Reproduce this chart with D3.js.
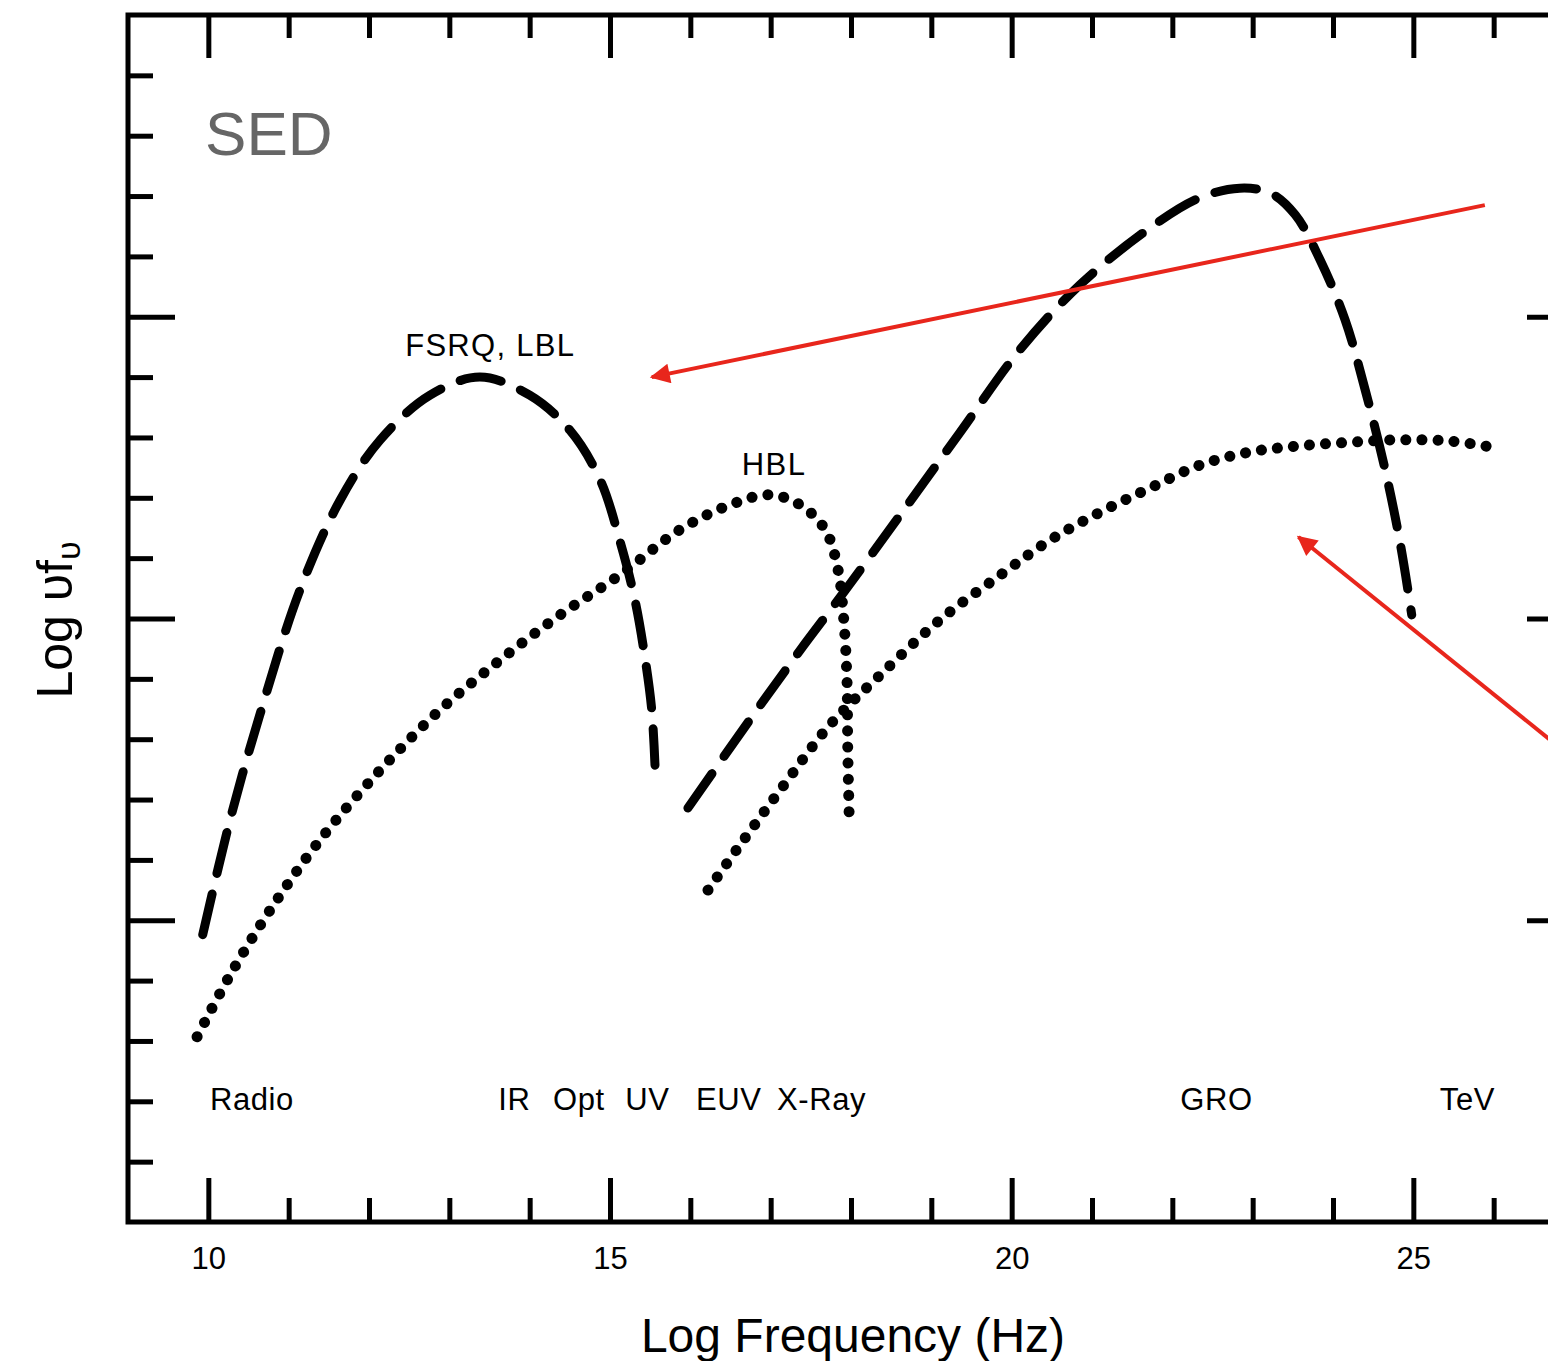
<!DOCTYPE html>
<html lang="en">
<head>
<meta charset="UTF-8">
<title>SED</title>
<script src="https://d3js.org/d3.v7.min.js"></script>
<style>
  body { margin: 0; background: #fff; }
  svg { display: block; font-family: "Liberation Sans", Arial, sans-serif; }
</style>
</head>
<body>
<div id="chart"></div>
<script>
// curve points, x = log frequency (Hz), y = log nu f_nu (arbitrary units, minor tick = 1)
const lblSyncX = [9.93, 10.27, 10.64, 11.14, 11.64, 12.14, 12.76, 13.38, 14.00, 14.50, 14.88, 15.12, 15.31, 15.44, 15.52, 15.56];
const lblSyncY = [4.76, 6.66, 8.40, 10.47, 11.96, 12.96, 13.70, 14.00, 13.70, 13.12, 12.29, 11.30, 10.31, 9.31, 8.48, 7.57];

const lblIcX = [15.97, 16.74, 17.37, 17.93, 18.61, 19.36, 20.10, 20.85, 21.72, 22.34, 22.84, 23.22, 23.53, 23.84, 24.15, 24.40, 24.65, 24.84, 24.98];
const lblIcY = [6.86, 8.32, 9.48, 10.47, 11.71, 13.09, 14.45, 15.53, 16.47, 16.97, 17.13, 17.05, 16.69, 15.94, 14.95, 13.79, 12.46, 11.22, 10.06];

const hblSyncX = [9.86, 10.27, 10.77, 11.39, 12.14, 12.88, 13.63, 14.38, 15.12, 15.87, 16.49, 16.99, 17.37, 17.68, 17.84, 17.91, 17.95, 17.96, 17.98];
const hblSyncY = [3.07, 4.09, 5.17, 6.33, 7.49, 8.48, 9.31, 10.06, 10.72, 11.47, 11.88, 12.05, 11.88, 11.47, 10.80, 9.98, 8.98, 7.82, 6.58];

const hblIcX = [16.22, 16.62, 17.12, 17.74, 18.36, 19.11, 19.86, 20.48, 21.10, 21.72, 22.34, 22.97, 23.59, 24.21, 24.83, 25.46, 26.06];
const hblIcY = [5.50, 6.25, 7.16, 8.24, 9.06, 9.98, 10.72, 11.30, 11.76, 12.16, 12.54, 12.76, 12.86, 12.92, 12.96, 12.94, 12.82];

const xMajorTicks = [10, 15, 20, 25];
const xMinorTicks = [11, 12, 13, 14, 16, 17, 18, 19, 21, 22, 23, 24, 26];
const yMajorTicks = [5, 10, 15];
const yMinorTicks = [1, 2, 3, 4, 6, 7, 8, 9, 11, 12, 13, 14, 16, 17, 18, 19];

const bandLabels = ["Radio", "IR", "Opt", "UV", "EUV", "X-Ray", "GRO", "TeV"];
const bandX = [10.02, 13.61, 14.29, 15.19, 16.07, 17.08, 22.10, 25.33];
const bandY = 1.86;

// red arrows: [x1, y1, x2, y2] in data units, head at the second point
const arrows = [
  [25.89, 16.85, 15.52, 14.0],
  [27.01, 7.66, 23.57, 11.35]
];

const width = 1548, height = 1361;
const m = { left: 128, right: 1574, top: 15, bottom: 1222 };

const svg = d3.select("#chart").append("svg")
  .attr("width", width)
  .attr("height", height);

const x = d3.scaleLinear().domain([9, 27]).range([m.left, m.right]);
const y = d3.scaleLinear().domain([0, 20]).range([m.bottom, m.top]);

// ticks
const noLabel = () => "";
function tickGroup(axis, tr) {
  svg.append("g").attr("transform", tr).call(axis)
    .call(g => g.select(".domain").remove())
    .call(g => g.selectAll(".tick line").attr("stroke", "#000").attr("stroke-width", 5));
}
tickGroup(d3.axisBottom(x).tickValues(xMajorTicks).tickSize(43).tickFormat(noLabel), `translate(0,${m.top})`);
tickGroup(d3.axisBottom(x).tickValues(xMinorTicks).tickSize(23).tickFormat(noLabel), `translate(0,${m.top})`);
tickGroup(d3.axisTop(x).tickValues(xMinorTicks).tickSize(24).tickFormat(noLabel), `translate(0,${m.bottom})`);
tickGroup(d3.axisRight(y).tickValues(yMajorTicks).tickSize(47).tickFormat(noLabel), `translate(${m.left},0)`);
tickGroup(d3.axisRight(y).tickValues(yMinorTicks).tickSize(25).tickFormat(noLabel), `translate(${m.left},0)`);
tickGroup(d3.axisLeft(y).tickValues(yMajorTicks).tickSize(47).tickFormat(noLabel), `translate(${m.right},0)`);
tickGroup(d3.axisLeft(y).tickValues(yMinorTicks).tickSize(25).tickFormat(noLabel), `translate(${m.right},0)`);

// bottom majors with labels below
svg.append("g").attr("transform", `translate(0,${m.bottom})`)
  .call(d3.axisBottom(x).tickValues(xMajorTicks).tickSizeInner(-44).tickSizeOuter(0).tickPadding(25))
  .call(g => g.select(".domain").remove())
  .call(g => g.selectAll(".tick line").attr("stroke", "#000").attr("stroke-width", 5))
  .call(g => g.selectAll(".tick text")
    .attr("font-family", "Liberation Sans, Arial, sans-serif")
    .attr("font-size", 31).attr("fill", "#000"));

// frame
svg.append("rect")
  .attr("x", m.left).attr("y", m.top)
  .attr("width", m.right - m.left).attr("height", m.bottom - m.top)
  .attr("fill", "none").attr("stroke", "#000").attr("stroke-width", 5);

// curves
const line = d3.line()
  .x(d => x(d[0])).y(d => y(d[1]))
  .curve(d3.curveCatmullRom.alpha(0.5));

const curves = [
  { xs: lblSyncX, ys: lblSyncY, dash: "42 21", w: 9 },
  { xs: lblIcX, ys: lblIcY, dash: "42 21", w: 9 },
  { xs: hblSyncX, ys: hblSyncY, dash: "0.1 16", w: 11 },
  { xs: hblIcX, ys: hblIcY, dash: "0.1 16", w: 11 }
];
curves.forEach(c => {
  svg.append("path")
    .datum(c.xs.map((v, i) => [v, c.ys[i]]))
    .attr("d", line)
    .attr("fill", "none")
    .attr("stroke", "#000")
    .attr("stroke-width", c.w)
    .attr("stroke-linecap", "round")
    .attr("stroke-dasharray", c.dash);
});

// text labels
svg.append("text").attr("x", x(9.96)).attr("y", y(17.68))
  .attr("font-size", 62).attr("fill", "#666").text("SED");
svg.append("text").attr("x", x(12.45)).attr("y", y(14.35))
  .attr("font-size", 31).attr("letter-spacing", 1.3).text("FSRQ, LBL");
svg.append("text").attr("x", x(16.64)).attr("y", y(12.38))
  .attr("font-size", 31).attr("letter-spacing", 1.5).text("HBL");

svg.selectAll(".band").data(bandLabels).join("text")
  .attr("class", "band")
  .attr("x", (d, i) => x(bandX[i]))
  .attr("y", y(bandY))
  .attr("font-size", 31)
  .attr("letter-spacing", 0.6)
  .text(d => d);

// axis titles
svg.append("text")
  .attr("x", 853).attr("y", 1352)
  .attr("text-anchor", "middle").attr("font-size", 48)
  .text("Log Frequency (Hz)");

const yt = svg.append("text")
  .attr("transform", "translate(72,620) rotate(-90)")
  .attr("text-anchor", "middle").attr("font-size", 50);
yt.append("tspan").text("Log υf");
yt.append("tspan").attr("font-size", 34).attr("dy", 8).text("υ");

// red arrows
svg.append("defs").append("marker")
  .attr("id", "head")
  .attr("viewBox", "0 0 10 10")
  .attr("refX", 9).attr("refY", 5)
  .attr("markerWidth", 6).attr("markerHeight", 5)
  .attr("markerUnits", "strokeWidth")
  .attr("orient", "auto")
  .append("path").attr("d", "M0,0 L10,5 L0,10 Z").attr("fill", "#e8261c");

svg.selectAll(".arrow").data(arrows).join("line")
  .attr("class", "arrow")
  .attr("x1", d => x(d[0])).attr("y1", d => y(d[1]))
  .attr("x2", d => x(d[2])).attr("y2", d => y(d[3]))
  .attr("stroke", "#e8261c").attr("stroke-width", 4)
  .attr("marker-end", "url(#head)");
</script>
</body>
</html>
